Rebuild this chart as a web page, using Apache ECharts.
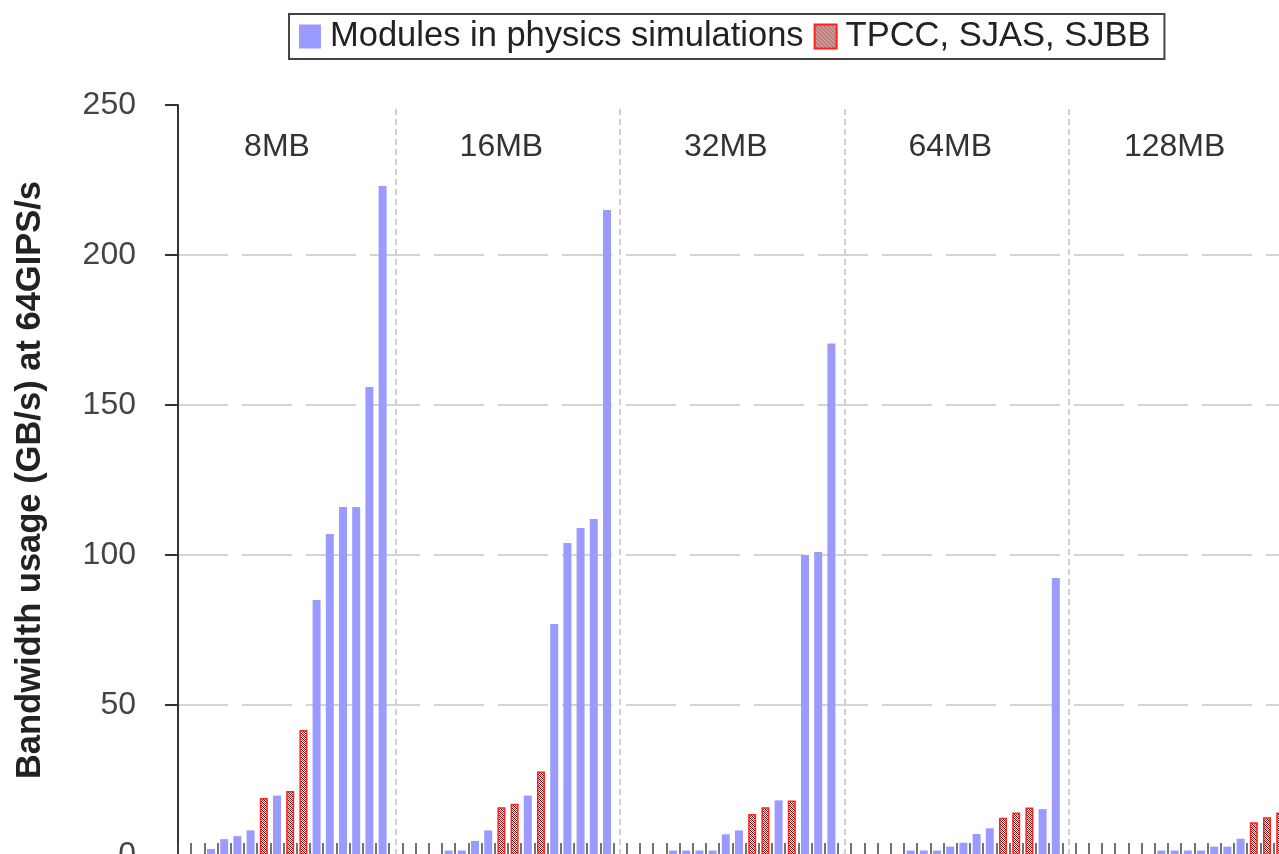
<!DOCTYPE html>
<html>
<head>
<meta charset="utf-8">
<script src="https://cdn.jsdelivr.net/npm/echarts@6/dist/echarts.min.js"></script>
<style>
  html, body { margin: 0; padding: 0; background: #fff; }
  #chart { width: 1279px; height: 854px; }
</style>
</head>
<body>
<div id="chart"></div>
<script>
// cache size groups, 17 slots each (last slot of a group is the gap before the next one)
const groups = ['8MB', '16MB', '32MB', '64MB', '128MB']

// bandwidth (GB/s) per slot, '-' = no bar of that kind in the slot
const physics8 = [0, 0, 2, 5.3, 6.3, 8.2, '-', 19.8, '-', '-', 85, 107, 116, 116, 156, 223, '-']
const tpcc8 = ['-', '-', '-', '-', '-', '-', 19, '-', 21.3, 41.7, '-', '-', '-', '-', '-', '-', '-']
const physics16 = [0, 0, 0, 1.5, 1.5, 4.7, 8.2, '-', '-', 19.8, '-', 77, 104, 109, 112, 215, '-']
const tpcc16 = ['-', '-', '-', '-', '-', '-', '-', 15.9, 17.1, '-', 27.8, '-', '-', '-', '-', '-', '-']
const physics32 = [0, 0, 0, 1.5, 1.5, 1.5, 1.5, 6.9, 8.2, '-', '-', 18.2, '-', 100, 101, 170.5, '-']
const tpcc32 = ['-', '-', '-', '-', '-', '-', '-', '-', '-', 13.7, 15.9, '-', 18.2, '-', '-', '-', '-']
const physics64 = [0, 0, 0, 0, 1.5, 1.5, 1.5, 2.8, 4.1, 7, 8.9, '-', '-', '-', 15.3, 92.3, '-']
const tpcc64 = ['-', '-', '-', '-', '-', '-', '-', '-', '-', '-', '-', 12.4, 14.2, 15.8, '-', '-', '-']
const physics128 = [0, 0, 0, 0, 0, 0, 1.5, 1.5, 1.5, 1.5, 2.8, 2.8, 5.4, '-', '-', '-', 60]
const tpcc128 = ['-', '-', '-', '-', '-', '-', '-', '-', '-', '-', '-', '-', '-', 10.9, 12.6, 14.2, '-']

const physics = [].concat(physics8, physics16, physics32, physics64, physics128)
const tpcc = [].concat(tpcc8, tpcc16, tpcc32, tpcc64, tpcc128)
const slots = []
groups.forEach(function (g) {
  for (let i = 0; i < 17; i++) slots.push(g + '-' + i)
})

// hatched fill for the TPCC bars
let pat = document.createElement('canvas')
pat.width = 4
pat.height = 4
let ctx = pat.getContext('2d')
ctx.fillStyle = '#ffffff'
ctx.fillRect(0, 0, 4, 4)
for (let i = 0; i < 4; i++) {
  ctx.fillStyle = '#111111'
  ctx.fillRect(i, i, 1, 1)
  ctx.fillStyle = '#ff2020'
  ctx.fillRect(i, (i + 2) % 4, 1, 1)
}

const font = 'Liberation Sans, Arial, sans-serif'
let myChart = echarts.init(document.getElementById('chart'))
let option = {
  backgroundColor: '#ffffff',
  animation: false,
  legend: {
    left: 289,
    top: 14,
    icon: 'rect',
    itemWidth: 22,
    itemHeight: 24,
    itemGap: 10,
    padding: [5, 14, 5, 10],
    borderColor: '#444',
    borderWidth: 2,
    textStyle: { fontSize: 34.5, color: '#222', fontFamily: font, padding: [0, 0, 0, 4] },
    data: ['Modules in physics simulations', 'TPCC, SJAS, SJBB']
  },
  grid: { left: 178, top: 105, right: -21, bottom: -1, outerBoundsMode: 'none' },
  xAxis: [
    {
      type: 'category',
      data: slots,
      axisLine: { lineStyle: { color: '#333', width: 2 } },
      axisTick: { show: true, inside: true, length: 12, interval: 0, lineStyle: { color: '#444', width: 1.5 } },
      axisLabel: { show: false }
    },
    {
      type: 'category',
      position: 'top',
      data: slots,
      axisLine: { show: false },
      axisTick: { show: false },
      axisLabel: {
        inside: true,
        margin: 26,
        interval: 0,
        fontSize: 32,
        color: '#333',
        fontFamily: font,
        formatter: function (value, index) {
          return index % 17 === 7 ? groups[Math.floor(index / 17)] : ''
        }
      }
    }
  ],
  yAxis: {
    type: 'value',
    min: 0,
    max: 250,
    interval: 50,
    name: 'Bandwidth usage (GB/s) at 64GIPS/s',
    nameLocation: 'middle',
    nameRotate: 90,
    nameGap: 130,
    nameTextStyle: { fontSize: 34.5, fontWeight: 'bold', color: '#222', fontFamily: font },
    axisLine: { show: true, lineStyle: { color: '#333', width: 2 } },
    axisTick: { show: true, length: 13, lineStyle: { color: '#333', width: 2 } },
    axisLabel: { fontSize: 32, color: '#444', margin: 42, fontFamily: font },
    splitLine: {
      show: true,
      showMinLine: false,
      showMaxLine: false,
      lineStyle: { color: '#d4d4d4', width: 2, type: [50, 14] }
    }
  },
  series: [
    {
      name: 'Modules in physics simulations',
      type: 'bar',
      barWidth: 8,
      barGap: '-100%',
      itemStyle: { color: '#9b9bff' },
      data: physics,
      markLine: {
        silent: true,
        symbol: 'none',
        label: { show: false },
        lineStyle: { color: '#cfcfcf', width: 2, type: [6, 4] },
        data: [0, 1, 2, 3].map(function (k) { return { xAxis: groups[k] + '-16' } })
      }
    },
    {
      name: 'TPCC, SJAS, SJBB',
      type: 'bar',
      barWidth: 8,
      barGap: '-100%',
      itemStyle: {
        color: { image: pat, repeat: 'repeat' },
        borderColor: '#ff2020',
        borderWidth: 1.5
      },
      data: tpcc
    }
  ]
}
myChart.setOption(option)
</script>
</body>
</html>
